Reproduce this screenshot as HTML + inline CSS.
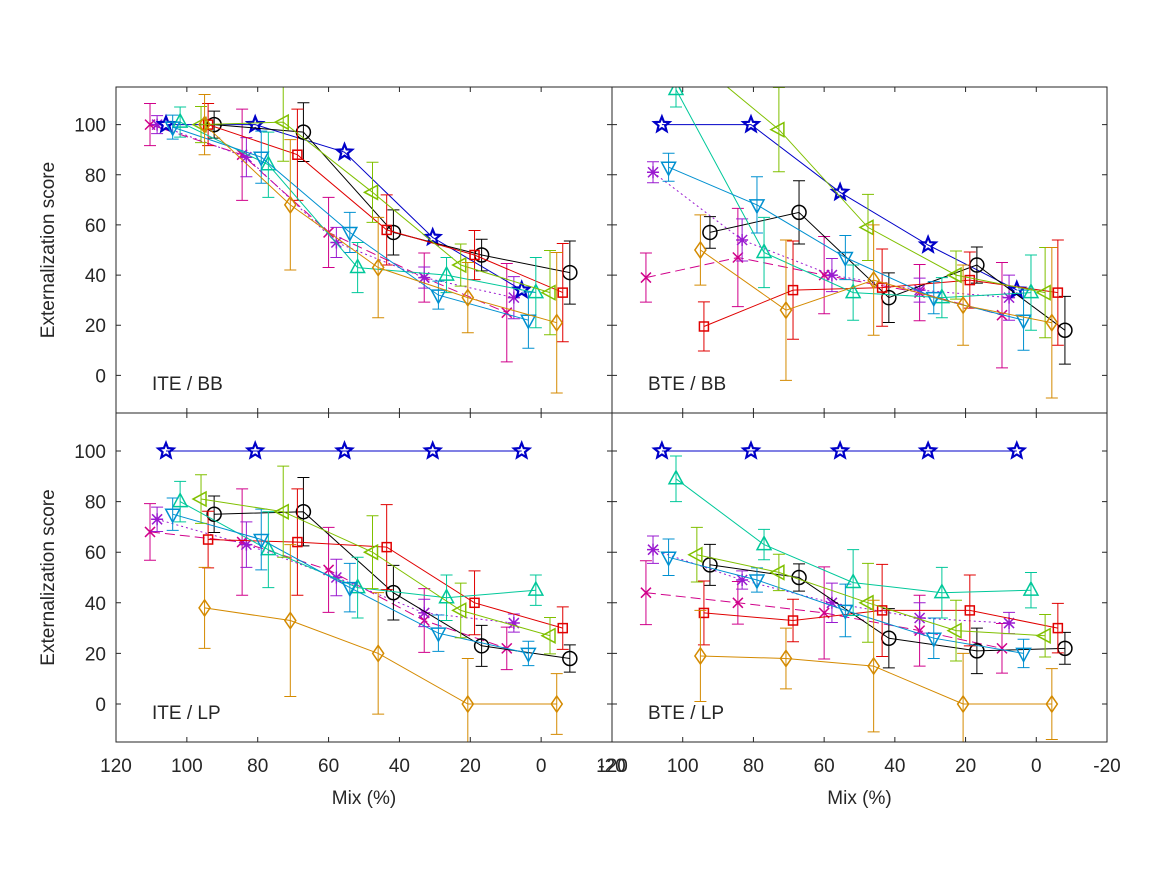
<!DOCTYPE html>
<html><head><meta charset="utf-8"><style>
html,body{margin:0;padding:0;background:#fff;}
svg text{font-family:"Liberation Sans",sans-serif;fill:#262626;}
</style></head><body>
<svg id="s" width="1167" height="875" xmlns="http://www.w3.org/2000/svg"></svg>
<script>
const S=document.getElementById('s');let h='';
const P=[{x0:116,y0:87,w:496,hh:326,t:'ITE / BB'},{x0:612,y0:87,w:495,hh:326,t:'BTE / BB'},
{x0:116,y0:413,w:496,hh:329,t:'ITE / LP'},{x0:612,y0:413,w:495,hh:329,t:'BTE / LP'}];
const X={mx:[110.4,84.4,60,33,9.7],pa:[108.4,83.2,57.8,33,7.7],st:[105.9,80.7,55.5,30.6,5.5],bk:[92.3,67.1,41.7,16.8,-8.1],
rd:[94,68.8,43.6,18.8,-6.1],cy:[101.9,77,51.8,26.7,1.5],lb:[104,79,54,29,3.6],yg:[96,72.8,47.6,22.7,-2.5],or:[95,70.8,46,20.7,-4.4]};
const C={mx:'#d0008a',pa:'#9a1ad0',st:'#0000c8',bk:'#000',rd:'#e00000',cy:'#00c89a',lb:'#0090d0',yg:'#80c000',or:'#d48a00'};
const Y=[
{mx:[100,88,57,39,25],pa:[100,87,53,39,31],st:[100,100,89,55,34],bk:[100,97,57,48,41],rd:[100,88,58,48,33],cy:[101,84,43,40,33],lb:[99,87,57,32,22],yg:[100,101,73,44,33],or:[100,68,43,31,21]},
{mx:[39,47,40,33,24],pa:[81,54,40,34,31],st:[100,100,73,52,34],bk:[57,65,31,44,18],rd:[19.5,34,35,38,33],cy:[114,49,33,31,33],lb:[83,68,47,31,22],yg:[125,98,59,40,33],or:[50,26,38,28,21]},
{mx:[68,64,53,33,22],pa:[73,63,50,36,32],st:[100,100,100,100,100],bk:[75,76,44,23,18],rd:[65,64,62,40,30],cy:[80,61,46,42,45],lb:[75,65,46,28,20],yg:[81,76,60,37,27],or:[38,33,20,0,0]},
{mx:[44,40,36,29,22],pa:[61,49,40,34,32],st:[100,100,100,100,100],bk:[55,50,26,21,22],rd:[36,33,37,37,30],cy:[89,63,48,44,45],lb:[58,49,37,26,20],yg:[59,52,40,29,27],or:[19,18,15,0,0]}];
const E={mx:14,pa:6,st:0,bk:9,rd:14,cy:10,lb:8,yg:12,or:20};
const dash={mx:'10,5',pa:'2,3'};
function mk(k,x,y,c){const r=7;
 if(k==='bk')return `<circle cx="${x}" cy="${y}" r="${r}" fill="none" stroke="${c}" stroke-width="1.5"/>`;
 if(k==='rd')return `<rect x="${x-4.5}" y="${y-4.5}" width="9" height="9" fill="none" stroke="${c}" stroke-width="1.5"/>`;
 if(k==='cy')return `<polygon points="${x},${y-8} ${x-7},${y+5} ${x+7},${y+5}" fill="none" stroke="${c}" stroke-width="1.5"/>`;
 if(k==='lb')return `<polygon points="${x},${y+8} ${x-7},${y-5} ${x+7},${y-5}" fill="none" stroke="${c}" stroke-width="1.5"/>`;
 if(k==='yg')return `<polygon points="${x-8},${y} ${x+5},${y-7} ${x+5},${y+7}" fill="none" stroke="${c}" stroke-width="1.5"/>`;
 if(k==='or')return `<polygon points="${x},${y-8} ${x-5.5},${y} ${x},${y+8} ${x+5.5},${y}" fill="none" stroke="${c}" stroke-width="1.5"/>`;
 if(k==='mx')return `<path d="M${x-5} ${y-5}L${x+5} ${y+5}M${x-5} ${y+5}L${x+5} ${y-5}" stroke="${c}" stroke-width="1.5"/>`;
 if(k==='pa')return `<path d="M${x-5} ${y-5}L${x+5} ${y+5}M${x-5} ${y+5}L${x+5} ${y-5}M${x} ${y-6}L${x} ${y+6}M${x-6} ${y}L${x+6} ${y}" stroke="${c}" stroke-width="1.5"/>`;
 if(k==='st'){let p=[];for(let i=0;i<10;i++){const a=-Math.PI/2+i*Math.PI/5,rr=i%2?3.5:8;p.push((x+rr*Math.cos(a)).toFixed(1)+','+(y+rr*Math.sin(a)).toFixed(1));}
  return `<polygon points="${p.join(' ')}" fill="none" stroke="${c}" stroke-width="2.2"/>`;}
}
P.forEach((p,pi)=>{
 const sx=v=>p.x0+(120-v)*p.w/140, sy=v=>p.y0+(115-v)*p.hh/130;
 h+=`<g><clipPath id="c${pi}"><rect x="${p.x0}" y="${p.y0}" width="${p.w}" height="${p.hh}"/></clipPath>`;
 h+=`<g clip-path="url(#c${pi})">`;
 Object.keys(X).forEach(k=>{const c=C[k],ys=Y[pi][k];
  let pts=X[k].map((x,i)=>sx(x).toFixed(1)+','+sy(ys[i]).toFixed(1)).join(' ');
  h+=`<polyline points="${pts}" fill="none" stroke="${c}" stroke-width="1" ${dash[k]?`stroke-dasharray="${dash[k]}"`:''}/>`;
  X[k].forEach((x,i)=>{const e=E[k]*(0.6+((i*37+pi*11)%10)/10);if(e>0){const X1=sx(x),a=sy(ys[i]+e),b=sy(ys[i]-e);
   h+=`<path d="M${X1} ${a}V${b}M${X1-6} ${a}H${X1+6}M${X1-6} ${b}H${X1+6}" stroke="${c}" stroke-width="1"/>`;}
   h+=mk(k,sx(x),sy(ys[i]),c);});
 });
 h+=`</g><rect x="${p.x0}" y="${p.y0}" width="${p.w}" height="${p.hh}" fill="none" stroke="#262626" stroke-width="1"/>`;
 for(let v=120;v>=-20;v-=20){const x=sx(v);h+=`<path d="M${x} ${p.y0+p.hh}v-5M${x} ${p.y0}v5" stroke="#262626"/>`;
  if(pi>=2)h+=`<text x="${x}" y="${p.y0+p.hh+30}" font-size="19" text-anchor="middle">${v}</text>`;}
 for(let v=0;v<=100;v+=20){const y=sy(v);h+=`<path d="M${p.x0} ${y}h5M${p.x0+p.w} ${y}h-5" stroke="#262626"/>`;
  if(pi%2===0)h+=`<text x="${p.x0-10}" y="${y+7}" font-size="19" text-anchor="end">${v}</text>`;}
 h+=`<text x="${p.x0+36}" y="${p.y0+p.hh-23}" font-size="19">${p.t}</text>`;
 if(pi>=2)h+=`<text x="${p.x0+p.w/2}" y="804" font-size="19" text-anchor="middle">Mix (%)</text>`;
 if(pi%2===0)h+=`<text transform="translate(54,${p.y0+p.hh/2}) rotate(-90)" font-size="19" text-anchor="middle">Externalization score</text>`;
 h+='</g>';
});
S.innerHTML=h;
</script>
</body></html>
